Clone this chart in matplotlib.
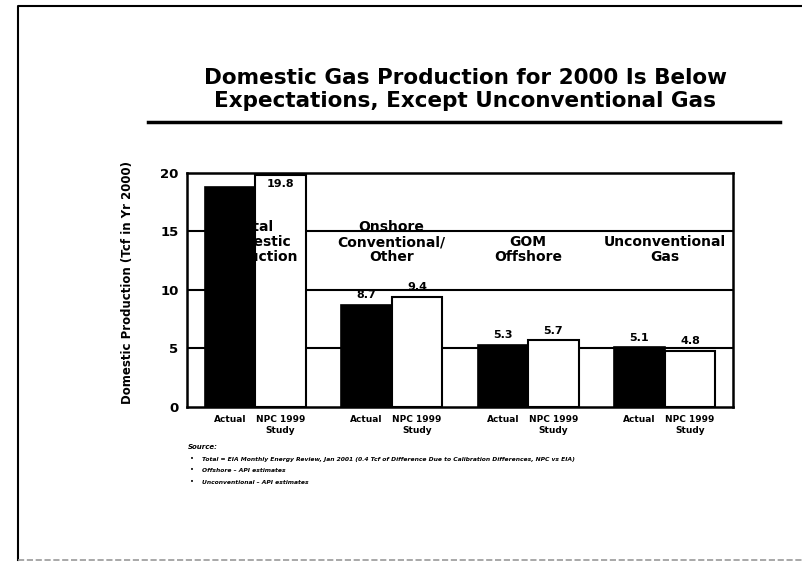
import matplotlib.pyplot as plt
import numpy as np
from matplotlib.lines import Line2D

plt.rcParams['font.family'] = ['DejaVu Sans']

# data
categories = ['Total\nDomestic\nProduction', 'Onshore\nConventional/\nOther',
              'GOM\nOffshore', 'Unconventional\nGas']
actual = [18.8, 8.7, 5.3, 5.1]
npc1999 = [19.8, 9.4, 5.7, 4.8]
actual_labels = ['', '8.7', '5.3', '5.1']
npc_labels = ['19.8', '9.4', '5.7', '4.8']
yticks = [0, 5, 10, 15, 20]

title = 'Domestic Gas Production for 2000 Is Below\nExpectations, Except Unconventional Gas'
ylabel = 'Domestic Production (Tcf in Yr 2000)'
sources = ['Total = EIA Monthly Energy Review, Jan 2001 (0.4 Tcf of Difference Due to Calibration Differences, NPC vs EIA)',
           'Offshore \u2013 API estimates',
           'Unconventional \u2013 API estimates']

fig = plt.figure(figsize=(8.02, 5.63), dpi=100)
ax = fig.add_axes([0.233, 0.277, 0.681, 0.416])

x = np.arange(len(categories))
w = 0.37
ax.bar(x - w / 2, actual, w, color='black', edgecolor='black', lw=1.2, zorder=3)
ax.bar(x + w / 2, npc1999, w, color='white', edgecolor='black', lw=1.5, zorder=2)

for yv in [5, 10, 15]:
    ax.axhline(yv, color='black', lw=1.5, zorder=1)

# group names sit behind the black bars (the "Total" one is half hidden)
for i, c in enumerate(categories):
    ax.text(x[i], 12.2, c, ha='center', va='bottom', fontsize=10, fontweight='bold',
            linespacing=1.1, zorder=2.5)

for i in range(len(x)):
    if actual_labels[i]:
        ax.text(x[i] - w / 2, actual[i] + 0.4, actual_labels[i], ha='center', va='bottom',
                fontsize=8, fontweight='bold', zorder=4)
    if npc1999[i] > 18:
        ax.text(x[i] + w / 2, npc1999[i] - 0.3, npc_labels[i], ha='center', va='top',
                fontsize=8, fontweight='bold', zorder=4)
    else:
        ax.text(x[i] + w / 2, npc1999[i] + 0.4, npc_labels[i], ha='center', va='bottom',
                fontsize=8, fontweight='bold', zorder=4)

ax.set_xlim(-0.5, 3.5)
ax.set_ylim(0, 20)
ax.set_yticks(yticks)
ax.set_yticklabels([str(t) for t in yticks], fontsize=9.5, fontweight='bold')
xt = np.concatenate([x - w / 2, x + w / 2])
ax.set_xticks(xt)
ax.set_xticklabels(['Actual'] * 4 + ['NPC 1999\nStudy'] * 4, fontsize=6.5, fontweight='bold',
                   linespacing=1.3, va='top')
ax.tick_params(length=0, pad=6)
ax.set_ylabel(ylabel, fontsize=8.5, fontweight='bold')
ax.yaxis.set_label_coords(-0.097, 0.53)
for s in ax.spines.values():
    s.set_linewidth(1.8)

fig.text(0.58, 1 - 89.5 / 563, title, ha='center', va='center', fontsize=15.5,
         fontweight='bold', linespacing=1.15)
fig.add_artist(Line2D([148 / 802, 780 / 802], [1 - 122 / 563] * 2, color='black', lw=2.5))

# slide border
fig.add_artist(Line2D([18 / 802, 18 / 802, 1.0], [1 - 560 / 563, 1 - 6 / 563, 1 - 6 / 563],
                      color='black', lw=1.5))
fig.add_artist(Line2D([18 / 802, 1.0], [1 - 560 / 563] * 2, color='0.6', lw=1.2, ls='--'))

fig.text(188 / 802, 1 - 447 / 563, 'Source:', fontsize=5, fontweight='bold', style='italic',
         va='center')
for k, s in enumerate(sources):
    yy = 1 - (459 + 11.5 * k) / 563
    fig.text(190 / 802, yy, '\u2022', fontsize=5, va='center')
    fig.text(202 / 802, yy, s, fontsize=4.3, fontweight='bold', style='italic', va='center')

fig.savefig('out.png', dpi=100)
